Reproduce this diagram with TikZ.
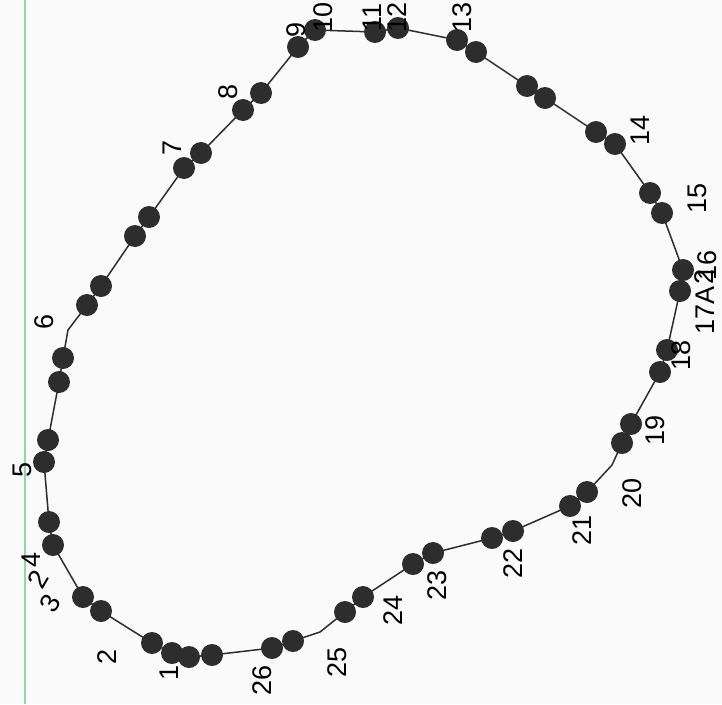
\documentclass[tikz,border=0pt]{standalone}
\usepackage{fontspec}
\setmainfont{Liberation Sans}
\usepackage{xcolor}
\definecolor{beadgray}{RGB}{45,45,45}
\definecolor{rim}{RGB}{140,215,175}

\tikzset{
  bead/.style={circle,fill=beadgray,inner sep=0pt,minimum size=22pt},
  tag/.style={rotate=90,inner sep=0pt,font=\fontsize{27}{32}\selectfont}
}

\begin{document}
\begin{tikzpicture}[x=1pt,y=-1pt]
\fill[white!98!black] (0,0) rectangle (722,704);
\clip (0,0) rectangle (722,704);
\draw[rim,line width=1.2pt] (25,0) -- (25,704);
% positions of the beads, going round
\coordinate (p1) at (212,655);
\coordinate (p2) at (189,657);
\coordinate (p3) at (172,653);
\coordinate (p4) at (152,643);
\coordinate (p5) at (101,611);
\coordinate (p6) at (83,597);
\coordinate (p7) at (53,545);
\coordinate (p8) at (49,522);
\coordinate (p9) at (44,462);
\coordinate (p10) at (48,440);
\coordinate (p11) at (59,382);
\coordinate (p12) at (63,358);
\coordinate (k1) at (68,330);
\coordinate (p13) at (87,305);
\coordinate (p14) at (101,286);
\coordinate (p15) at (135,236);
\coordinate (p16) at (149,217);
\coordinate (p17) at (184,168);
\coordinate (p18) at (201,153);
\coordinate (p19) at (243,110);
\coordinate (p20) at (261,93);
\coordinate (p21) at (298,47);
\coordinate (p22) at (315,30);
\coordinate (p23) at (375,32);
\coordinate (p24) at (398,28);
\coordinate (p25) at (457,40);
\coordinate (p26) at (476,52);
\coordinate (p27) at (527,86);
\coordinate (p28) at (545,98);
\coordinate (p29) at (596,132);
\coordinate (p30) at (615,144);
\coordinate (p31) at (650,193);
\coordinate (p32) at (662,213);
\coordinate (p33) at (683,270);
\coordinate (p34) at (680,291);
\coordinate (p35) at (667,350);
\coordinate (p36) at (660,372);
\coordinate (p37) at (631,424);
\coordinate (p38) at (622,443);
\coordinate (k2) at (612,465);
\coordinate (p39) at (587,492);
\coordinate (p40) at (570,506);
\coordinate (p41) at (513,531);
\coordinate (p42) at (492,538);
\coordinate (p43) at (433,553);
\coordinate (p44) at (413,564);
\coordinate (p45) at (363,597);
\coordinate (p46) at (345,612);
\coordinate (k3) at (320,632);
\coordinate (p47) at (293,641);
\coordinate (p48) at (272,648);
% the outline
\draw[beadgray,line width=1.5pt,line join=round]
  (p1) -- (p2) -- (p3) -- (p4) -- (p5) -- (p6) -- (p7) -- (p8) -- (p9) -- (p10)
  -- (p11) -- (p12) -- (k1) -- (p13) -- (p14) -- (p15) -- (p16) -- (p17) -- (p18)
  -- (p19) -- (p20) -- (p21) -- (p22) -- (p23) -- (p24) -- (p25) -- (p26) -- (p27)
  -- (p28) -- (p29) -- (p30) -- (p31) -- (p32) -- (p33) -- (p34) -- (p35) -- (p36)
  -- (p37) -- (p38) -- (k2) -- (p39) -- (p40) -- (p41) -- (p42) -- (p43) -- (p44)
  -- (p45) -- (p46) -- (k3) -- (p47) -- (p48) -- cycle;
\foreach \i in {1,...,48}
  \node[bead] (b\i) at (p\i) {};
% station numbers
\node[tag] (t1) at (169,673) {1};
\node[tag] (t2) at (107,657) {2};
\node[tag,rotate=-30] (t3) at (50,603) {3};
\node[tag,rotate=-30] (t3b) at (38,579) {2};
\node[tag] (t4) at (31,560) {4};
\node[tag] (t5) at (22,470) {5};
\node[tag] (t6) at (44,322) {6};
\node[tag] (t7) at (172,148) {7};
\node[tag] (t8) at (228,92) {8};
\node[tag] (t9) at (296,30) {9};
\node[tag] (t10) at (323,17) {10};
\node[tag] (t11) at (372,17) {11};
\node[tag] (t12) at (397,17) {12};
\node[tag] (t13) at (462,17) {13};
\node[tag] (t14) at (640,130) {14};
\node[tag] (t15) at (697,198) {15};
\node[tag] (t16) at (707,265) {16};
\node[tag] (t16b) at (704,277) {2};
\node[tag] (t17) at (705,310) {17A};
\node[tag] (t18) at (681,355) {18};
\node[tag] (t19) at (655,430) {19};
\node[tag] (t20) at (632,493) {20};
\node[tag] (t21) at (582,530) {21};
\node[tag] (t22) at (513,563) {22};
\node[tag] (t23) at (437,585) {23};
\node[tag] (t24) at (393,610) {24};
\node[tag] (t25) at (337,662) {25};
\node[tag] (t26) at (262,680) {26};
\end{tikzpicture}
\end{document}
